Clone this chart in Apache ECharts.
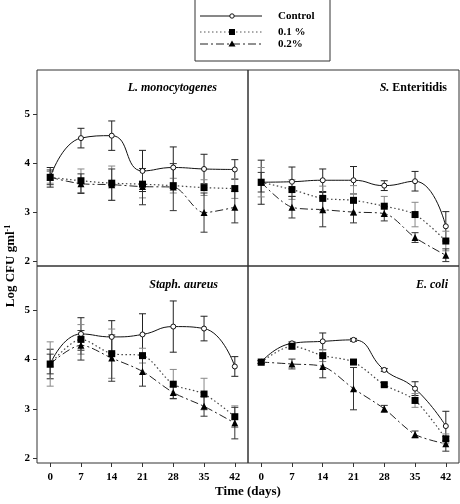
<!DOCTYPE html>
<html><head><meta charset="utf-8">
<script src="https://cdn.jsdelivr.net/npm/echarts@6/dist/echarts.min.js"></script>
<style>html,body{margin:0;padding:0;background:#fff}#c{width:460px;height:504px}</style>
</head><body><div id="c"></div>
<script>
const days = [0, 7, 14, 21, 28, 35, 42];
const yTicks = [2, 3, 4, 5];
const seriesNames = ['Control', '0.1 %', '0.2%'];

// L. monocytogenes
const lmCtrl = [3.71, 4.51, 4.56, 3.84, 3.91, 3.88, 3.87];
const lmCtrlErr = [0.2, 0.2, 0.3, 0.42, 0.42, 0.3, 0.2];
const lmP1 = [3.71, 3.64, 3.59, 3.57, 3.54, 3.50, 3.48];
const lmP1Err = [0.12, 0.24, 0.35, 0.28, 0.15, 0.16, 0.2];
const lmP2 = [3.71, 3.58, 3.56, 3.52, 3.51, 2.99, 3.10];
const lmP2Err = [0.15, 0.2, 0.32, 0.37, 0.48, 0.4, 0.32];

// S. Enteritidis
const seCtrl = [3.61, 3.62, 3.65, 3.65, 3.54, 3.63, 2.71];
const seCtrlErr = [0.45, 0.3, 0.23, 0.28, 0.1, 0.2, 0.3];
const seP1 = [3.61, 3.46, 3.28, 3.24, 3.12, 2.95, 2.41];
const seP1Err = [0.3, 0.2, 0.25, 0.3, 0.2, 0.25, 0.2];
const seP2 = [3.61, 3.10, 3.05, 3.00, 2.97, 2.48, 2.12];
const seP2Err = [0.2, 0.22, 0.35, 0.22, 0.15, 0.1, 0.13];

// Staph. aureus
const saCtrl = [3.91, 4.52, 4.46, 4.51, 4.67, 4.63, 3.86];
const saCtrlErr = [0.3, 0.33, 0.33, 0.42, 0.52, 0.25, 0.2];
const saP1 = [3.91, 4.41, 4.12, 4.08, 3.50, 3.30, 2.84];
const saP1Err = [0.45, 0.3, 0.5, 0.15, 0.3, 0.32, 0.22];
const saP2 = [3.91, 4.29, 4.03, 3.76, 3.33, 3.05, 2.71];
const saP2Err = [0.2, 0.3, 0.47, 0.3, 0.12, 0.2, 0.32];

// E. coli
const ecCtrl = [3.95, 4.33, 4.37, 4.40, 3.79, 3.41, 2.65];
const ecCtrlErr = [0.03, 0.03, 0.17, 0.03, 0.03, 0.14, 0.3];
const ecP1 = [3.95, 4.27, 4.08, 3.95, 3.49, 3.17, 2.39];
const ecP1Err = [0.03, 0.05, 0.12, 0.03, 0.03, 0.14, 0.1];
const ecP2 = [3.95, 3.91, 3.86, 3.41, 3.00, 2.48, 2.29];
const ecP2Err = [0.03, 0.1, 0.23, 0.43, 0.07, 0.07, 0.15];

const panels = [
  {ctrl: lmCtrl, ce: lmCtrlErr, p1: lmP1, e1: lmP1Err, p2: lmP2, e2: lmP2Err},
  {ctrl: seCtrl, ce: seCtrlErr, p1: seP1, e1: seP1Err, p2: seP2, e2: seP2Err},
  {ctrl: saCtrl, ce: saCtrlErr, p1: saP1, e1: saP1Err, p2: saP2, e2: saP2Err},
  {ctrl: ecCtrl, ce: ecCtrlErr, p1: ecP1, e1: ecP1Err, p2: ecP2, e2: ecP2Err}
];

const SERIF = '"Liberation Serif", "DejaVu Serif", serif';
const gridPos = [
  {left: 37, top: 70, width: 211, height: 196},
  {left: 248, top: 70, width: 211, height: 196},
  {left: 37, top: 266, width: 211, height: 197},
  {left: 248, top: 266, width: 211, height: 197}
];

const grids = gridPos.map(g => Object.assign({show: true, borderColor: '#333', borderWidth: 1, backgroundColor: 'transparent'}, g));
const xAxes = gridPos.map((g, i) => ({
  type: 'value', gridIndex: i, min: -3, max: 45, position: 'bottom',
  splitLine: {show: false}, axisLine: {show: false, onZero: false},
  axisTick: {show: i >= 2, length: 4, inside: false, customValues: days, lineStyle: {color: '#333'}},
  axisLabel: {show: i >= 2, customValues: days, color: '#000', fontFamily: SERIF, fontWeight: 'bold', fontSize: 11, margin: 9}
}));
const yAxes = gridPos.map((g, i) => ({
  type: 'value', gridIndex: i, min: 1.9, max: 5.9, position: 'left',
  splitLine: {show: false}, axisLine: {show: false, onZero: false},
  axisTick: {show: i % 2 === 0, length: 4, inside: false, customValues: yTicks, lineStyle: {color: '#333'}},
  axisLabel: {show: i % 2 === 0, customValues: yTicks, color: '#000', fontFamily: SERIF, fontWeight: 'bold', fontSize: 11, margin: 7}
}));

function errSeries(idx, means, errs, color) {
  return {
    type: 'custom', xAxisIndex: idx, yAxisIndex: idx, z: 1, silent: true,
    data: days.map((d, k) => [d, means[k] - errs[k], means[k] + errs[k]]),
    encode: {x: 0, y: [1, 2]},
    renderItem: function (params, api) {
      const x = api.value(0), lo = api.value(1), hi = api.value(2);
      const a = api.coord([x, hi]), b = api.coord([x, lo]);
      const w = 3.5;
      const st = {stroke: color, lineWidth: 1};
      return {type: 'group', children: [
        {type: 'line', shape: {x1: a[0], y1: a[1], x2: b[0], y2: b[1]}, style: st},
        {type: 'line', shape: {x1: a[0] - w, y1: a[1], x2: a[0] + w, y2: a[1]}, style: st},
        {type: 'line', shape: {x1: b[0] - w, y1: b[1], x2: b[0] + w, y2: b[1]}, style: st}
      ]};
    }
  };
}

const series = [];
panels.forEach((p, i) => {
  series.push(errSeries(i, p.ctrl, p.ce, '#222'));
  series.push(errSeries(i, p.p1, p.e1, '#888'));
  series.push(errSeries(i, p.p2, p.e2, '#333'));
  series.push({
    name: seriesNames[0], type: 'line', xAxisIndex: i, yAxisIndex: i, z: 3, smooth: 0.5,
    data: days.map((d, k) => [d, p.ctrl[k]]),
    symbol: 'circle', symbolSize: 5,
    itemStyle: {color: '#fff', borderColor: '#111', borderWidth: 1},
    lineStyle: {color: '#111', width: 1}
  });
  series.push({
    name: seriesNames[1], type: 'line', xAxisIndex: i, yAxisIndex: i, z: 3, smooth: 0.3,
    data: days.map((d, k) => [d, p.p1[k]]),
    symbol: 'rect', symbolSize: 7,
    itemStyle: {color: '#000'},
    lineStyle: {color: '#444', width: 1.2, type: [1.5, 2.5]}
  });
  series.push({
    name: seriesNames[2], type: 'line', xAxisIndex: i, yAxisIndex: i, z: 3, smooth: 0.3,
    data: days.map((d, k) => [d, p.p2[k]]),
    symbol: 'triangle', symbolSize: 7,
    itemStyle: {color: '#000'},
    lineStyle: {color: '#222', width: 1, type: [8, 3, 2, 3]}
  });
});

const titleStyle = {fontFamily: SERIF, fontWeight: 'bold', fontSize: 12, fill: '#000', textAlign: 'right', textVerticalAlign: 'middle'};
const graphics = [
  {type: 'text', x: 217, y: 88, style: Object.assign({text: 'L. monocytogenes', fontStyle: 'italic'}, titleStyle)},
  {type: 'text', x: 447, y: 88, style: Object.assign({}, titleStyle, {
    text: '{i|S.} {n|Enteritidis}',
    rich: {i: {fontFamily: SERIF, fontWeight: 'bold', fontStyle: 'italic', fontSize: 12, fill: '#000'},
           n: {fontFamily: SERIF, fontWeight: 'bold', fontSize: 12, fill: '#000'}}
  })},
  {type: 'text', x: 218, y: 285, style: Object.assign({text: 'Staph. aureus', fontStyle: 'italic'}, titleStyle)},
  {type: 'text', x: 448, y: 285, style: Object.assign({text: 'E. coli', fontStyle: 'italic'}, titleStyle)},
  // axis titles
  {type: 'text', x: 248, y: 492, style: {text: 'Time (days)', fontFamily: SERIF, fontWeight: 'bold', fontSize: 13, fill: '#000', textAlign: 'center', textVerticalAlign: 'middle'}},
  {type: 'text', x: 11, y: 266, rotation: Math.PI / 2, style: {
    text: '{n|Log CFU gml}{s|-1}', textAlign: 'center', textVerticalAlign: 'middle',
    rich: {n: {fontFamily: SERIF, fontWeight: 'bold', fontSize: 13, fill: '#000'},
           s: {fontFamily: SERIF, fontWeight: 'bold', fontSize: 8, fill: '#000', verticalAlign: 'top', padding: [0, 0, 6, 0]}}
  }},
  // legend box
  {type: 'rect', shape: {x: 195, y: -2, width: 135, height: 63}, style: {fill: '#fff', stroke: '#333', lineWidth: 1}},
  {type: 'line', shape: {x1: 200, y1: 16, x2: 262, y2: 16}, style: {stroke: '#111', lineWidth: 1}},
  {type: 'circle', shape: {cx: 232, cy: 16, r: 2.2}, style: {fill: '#fff', stroke: '#111', lineWidth: 1}},
  {type: 'line', shape: {x1: 200, y1: 32, x2: 262, y2: 32}, style: {stroke: '#555', lineWidth: 1, lineDash: [1.5, 2.5]}},
  {type: 'rect', shape: {x: 229, y: 29, width: 6, height: 6}, style: {fill: '#000'}},
  {type: 'line', shape: {x1: 200, y1: 44, x2: 262, y2: 44}, style: {stroke: '#222', lineWidth: 1, lineDash: [8, 3, 2, 3]}},
  {type: 'polygon', shape: {points: [[232, 40.5], [235.5, 46.5], [228.5, 46.5]]}, style: {fill: '#000'}},
  {type: 'text', x: 278, y: 16, style: {text: 'Control', fontFamily: SERIF, fontWeight: 'bold', fontSize: 11, fill: '#000', textVerticalAlign: 'middle'}},
  {type: 'text', x: 278, y: 32, style: {text: '0.1 %', fontFamily: SERIF, fontWeight: 'bold', fontSize: 11, fill: '#000', textVerticalAlign: 'middle'}},
  {type: 'text', x: 278, y: 44, style: {text: '0.2%', fontFamily: SERIF, fontWeight: 'bold', fontSize: 11, fill: '#000', textVerticalAlign: 'middle'}}
];

const chart = echarts.init(document.getElementById('c'), null, {renderer: 'canvas'});
chart.setOption({
  animation: false,
  backgroundColor: '#fff',
  grid: grids, xAxis: xAxes, yAxis: yAxes,
  series: series,
  graphic: graphics
});
</script></body></html>
